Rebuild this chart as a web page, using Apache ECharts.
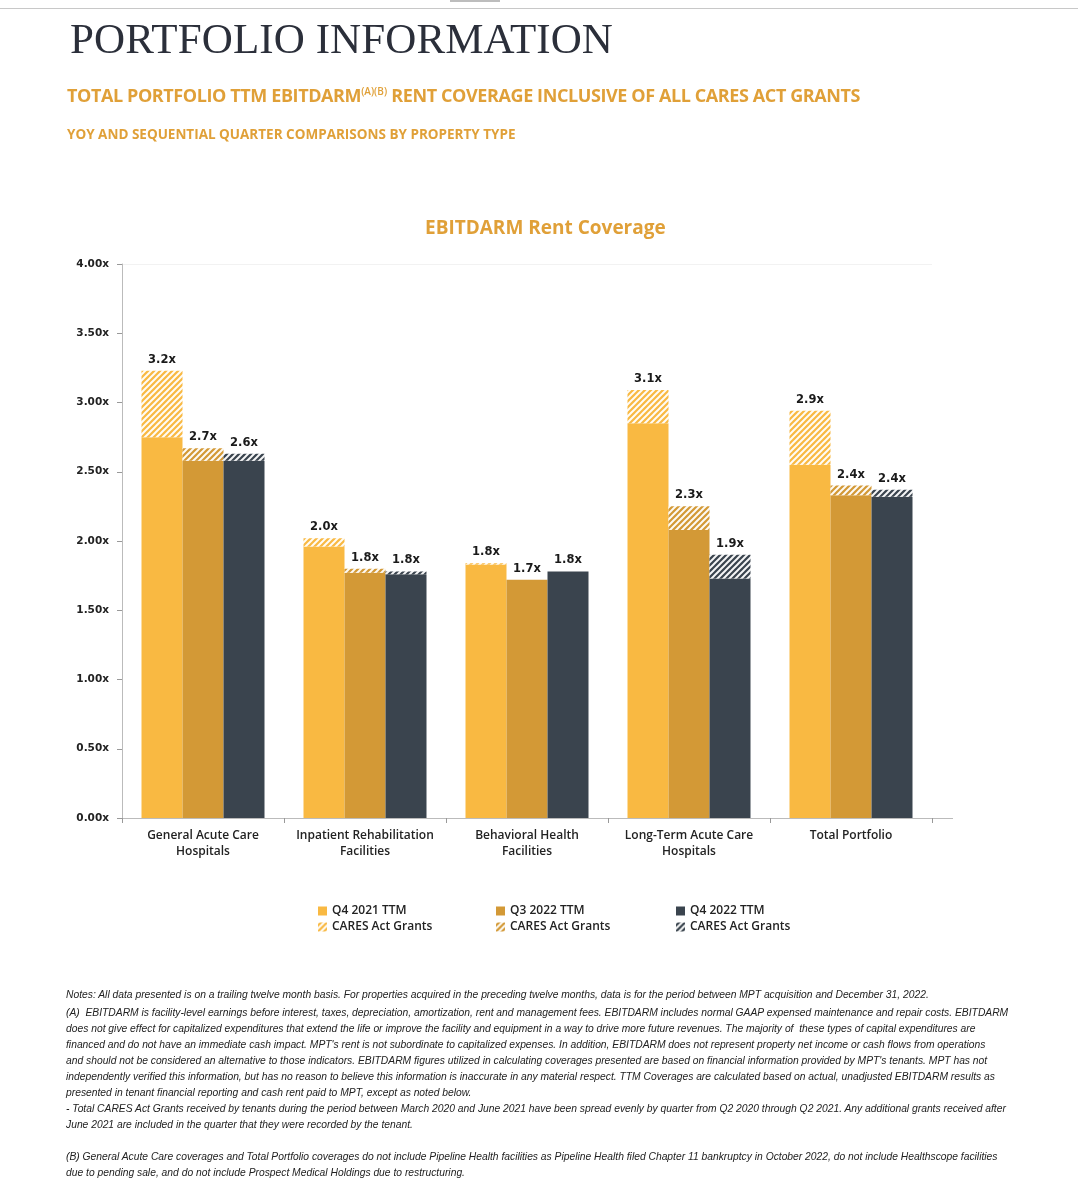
<!DOCTYPE html>
<html>
<head>
<meta charset="utf-8">
<script src="https://cdn.jsdelivr.net/npm/echarts@6/dist/echarts.min.js"></script>
<style>
  html, body { margin:0; padding:0; background:#fff; }
  #wrap { position:relative; width:1078px; height:1192px; overflow:hidden; }
  #chart { position:absolute; left:0; top:0; width:1078px; height:1192px; }
  .txt { position:absolute; white-space:nowrap; pointer-events:none; }
  #topline { position:absolute; left:0; top:8px; width:1078px; height:1px; background:#c8c8c8; }
  #topbar { position:absolute; left:450px; top:0; width:50px; height:2px; background:#bdbdbd; }
  #h1 { left:70px; top:14px; font-family:"Liberation Serif","DejaVu Serif",serif; font-size:43px; color:#2b2f3a; letter-spacing:0.1px; }
  #h2 { left:67px; top:83px; font-family:"Open Sans","Noto Sans",sans-serif; font-weight:700; font-size:18px; color:#e0a038; letter-spacing:-0.4px; }
  #h2 sup { font-size:10px; font-weight:600; vertical-align: 7px; letter-spacing:0; }
  #h3 { left:67px; top:125px; font-family:"Open Sans","Noto Sans",sans-serif; font-weight:700; font-size:13.5px; color:#e0a038; }
  #notes { left:66px; top:987px; font-family:"Liberation Sans Narrow","Liberation Sans","DejaVu Sans Condensed",sans-serif; font-style:italic; font-size:10.3px; color:#222; line-height:16px; }
</style>
</head>
<body>
<div id="wrap">
  <div id="chart"></div>
  <div id="topline"></div>
  <div id="topbar"></div>
  <div class="txt" id="h1">PORTFOLIO INFORMATION</div>
  <div class="txt" id="h2">TOTAL PORTFOLIO TTM EBITDARM<sup>(A)(B)</sup> RENT COVERAGE INCLUSIVE OF ALL CARES ACT GRANTS</div>
  <div class="txt" id="h3">YOY AND SEQUENTIAL QUARTER COMPARISONS BY PROPERTY TYPE</div>
  <div class="txt" id="notes">Notes: All data presented is on a trailing twelve month basis. For properties acquired in the preceding twelve months, data is for the period between MPT acquisition and December 31, 2022.<br>
<span style="display:block;height:2px"></span>(A)&nbsp; EBITDARM is facility-level earnings before interest, taxes, depreciation, amortization, rent and management fees. EBITDARM includes normal GAAP expensed maintenance and repair costs. EBITDARM<br>
does not give effect for capitalized expenditures that extend the life or improve the facility and equipment in a way to drive more future revenues. The majority of&nbsp; these types of capital expenditures are<br>
financed and do not have an immediate cash impact. MPT's rent is not subordinate to capitalized expenses. In addition, EBITDARM does not represent property net income or cash flows from operations<br>
and should not be considered an alternative to those indicators. EBITDARM figures utilized in calculating coverages presented are based on financial information provided by MPT's tenants. MPT has not<br>
independently verified this information, but has no reason to believe this information is inaccurate in any material respect. TTM Coverages are calculated based on actual, unadjusted EBITDARM results as<br>
presented in tenant financial reporting and cash rent paid to MPT, except as noted below.<br>
- Total CARES Act Grants received by tenants during the period between March 2020 and June 2021 have been spread evenly by quarter from Q2 2020 through Q2 2021. Any additional grants received after<br>
June 2021 are included in the quarter that they were recorded by the tenant.<br>
<br>
(B) General Acute Care coverages and Total Portfolio coverages do not include Pipeline Health facilities as Pipeline Health filed Chapter 11 bankruptcy in October 2022, do not include Healthscope facilities<br>
due to pending sale, and do not include Prospect Medical Holdings due to restructuring.</div>
</div>
<script>
// ---- data ----
var categories = ['General Acute Care\nHospitals', 'Inpatient Rehabilitation\nFacilities', 'Behavioral Health\nFacilities', 'Long-Term Acute Care\nHospitals', 'Total Portfolio'];
var q421Base  = [2.75, 1.96, 1.83, 2.85, 2.55];
var q421Grant = [0.48, 0.06, 0.01, 0.24, 0.39];
var q322Base  = [2.58, 1.77, 1.72, 2.08, 2.33];
var q322Grant = [0.09, 0.03, 0.00, 0.17, 0.07];
var q422Base  = [2.58, 1.76, 1.78, 1.73, 2.32];
var q422Grant = [0.05, 0.02, 0.00, 0.17, 0.05];
var q421Labels = ['3.2x', '2.0x', '1.8x', '3.1x', '2.9x'];
var q322Labels = ['2.7x', '1.8x', '1.7x', '2.3x', '2.4x'];
var q422Labels = ['2.6x', '1.8x', '1.8x', '1.9x', '2.4x'];
var yTicks = [0, 0.5, 1, 1.5, 2, 2.5, 3, 3.5, 4];

var C1 = '#f9b942', C2 = '#d39936', C3 = '#3a444e';

function hatch(color) {
  var s = 6;
  var cv = document.createElement('canvas');
  cv.width = s; cv.height = s;
  var ctx = cv.getContext('2d');
  ctx.fillStyle = color;
  ctx.fillRect(0, 0, s, s);
  ctx.strokeStyle = 'rgba(255,255,255,0.95)';
  ctx.lineWidth = 2;
  ctx.beginPath();
  ctx.moveTo(-1, s + 1); ctx.lineTo(s + 1, -1);
  ctx.moveTo(-1, 1); ctx.lineTo(1, -1);
  ctx.moveTo(s - 1, s + 1); ctx.lineTo(s + 1, s - 1);
  ctx.stroke();
  return { image: cv, repeat: 'repeat' };
}

var labelStyle = { fontFamily: 'DejaVu Sans', fontWeight: 'bold', fontSize: 11.5, color: '#1a1a1a' };

function baseSeries(name, stack, data, color) {
  return { name: name, type: 'bar', stack: stack, data: data, barWidth: 41, barGap: '0%',
    itemStyle: { color: color }, emphasis: { disabled: true } };
}
function grantSeries(name, stack, data, color, labels) {
  return { name: name, type: 'bar', stack: stack, data: data, barWidth: 41, barGap: '0%',
    itemStyle: { color: hatch(color) }, emphasis: { disabled: true },
    label: Object.assign({ show: true, position: 'top', distance: 5,
      formatter: function (p) { return labels[p.dataIndex]; } }, labelStyle) };
}

var G1 = 'CARES Act Grants', G2 = 'CARES Act Grants\u200b', G3 = 'CARES Act Grants\u200b\u200b';
var legendText = { fontFamily: 'Open Sans', fontWeight: 600, fontSize: 12, color: '#222' };
function legend(left, names) {
  return { orient: 'vertical', left: left, top: 900, itemWidth: 9, itemHeight: 9, itemGap: 4,
    icon: 'rect', data: names, textStyle: legendText, selectedMode: false };
}

var chart = echarts.init(document.getElementById('chart'), null, { renderer: 'canvas' });
chart.setOption({
  animation: false,
  backgroundColor: '#fff',
  title: { text: 'EBITDARM Rent Coverage', left: 420, top: 214,
    textStyle: { fontFamily: 'Open Sans', fontWeight: 'bold', fontSize: 19, color: '#e0a038' } },
  legend: [
    legend(313, ['Q4 2021 TTM', G1]),
    legend(491, ['Q3 2022 TTM', G2]),
    legend(671, ['Q4 2022 TTM', G3])
  ],
  grid: { left: 122, right: 146, top: 264, bottom: 374, containLabel: false },
  xAxis: {
    type: 'category', data: categories,
    axisLine: { lineStyle: { color: '#bbbbbb' } },
    axisTick: { show: true, length: 5, lineStyle: { color: '#999' } },
    axisLabel: { margin: 10, fontFamily: 'Open Sans', fontWeight: 600, fontSize: 12, lineHeight: 16, color: '#222', interval: 0 }
  },
  yAxis: {
    type: 'value', min: 0, max: 4, interval: 0.5,
    axisLine: { show: true, lineStyle: { color: '#bbbbbb' } },
    axisTick: { show: true, length: 5, lineStyle: { color: '#999' } },
    splitLine: { show: false },
    axisLabel: { margin: 13, fontFamily: 'DejaVu Sans', fontSize: 10.5, color: '#222', fontWeight: 'bold',
      formatter: function (v) { return v.toFixed(2) + 'x'; } }
  },
  graphic: [
    { type: 'line', shape: { x1: 932, y1: 818.5, x2: 953, y2: 818.5 }, style: { stroke: '#bbbbbb', lineWidth: 1 } },
    { type: 'line', shape: { x1: 122, y1: 264.5, x2: 932, y2: 264.5 }, style: { stroke: '#f2f2f2', lineWidth: 1 } }
  ],
  series: [
    baseSeries('Q4 2021 TTM', 'a', q421Base, C1),
    grantSeries(G1, 'a', q421Grant, C1, q421Labels),
    baseSeries('Q3 2022 TTM', 'b', q322Base, C2),
    grantSeries(G2, 'b', q322Grant, C2, q322Labels),
    baseSeries('Q4 2022 TTM', 'c', q422Base, C3),
    grantSeries(G3, 'c', q422Grant, C3, q422Labels)
  ]
});
</script>
</body>
</html>
